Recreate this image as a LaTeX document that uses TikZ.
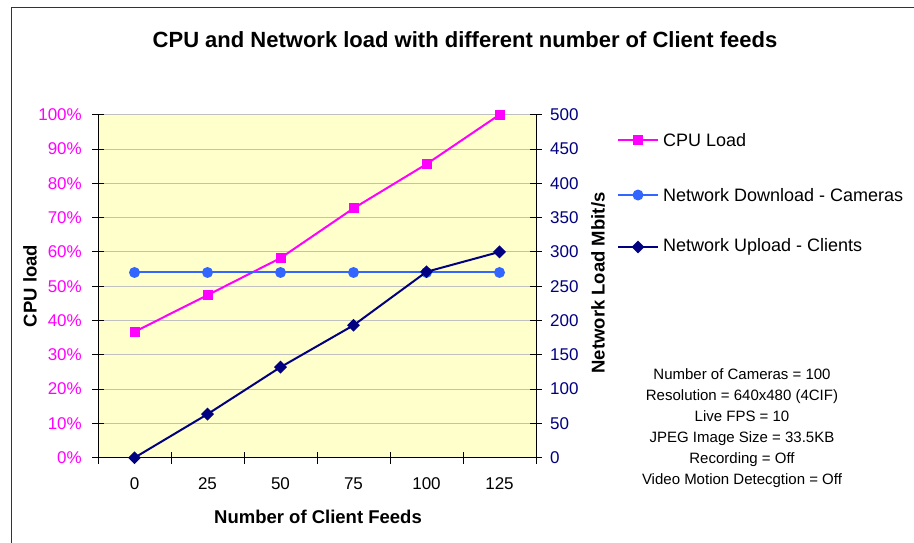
\documentclass[tikz,border=0pt]{standalone}
\usepackage{fontspec}
\setmainfont{Liberation Sans}
\usetikzlibrary{shapes.geometric}
\definecolor{cpuc}{RGB}{255,0,255}
\definecolor{dlc}{RGB}{51,102,255}
\definecolor{ulc}{RGB}{0,0,128}
\definecolor{plotbg}{RGB}{255,255,204}
\definecolor{gridc}{RGB}{192,192,192}
\tikzset{
  sqmark/.style={rectangle, fill=cpuc, inner sep=0pt, minimum size=10pt},
  cimark/.style={circle, fill=dlc, inner sep=0pt, minimum size=11pt},
  dimark/.style={diamond, fill=ulc, inner sep=0pt, minimum width=13pt, minimum height=13pt},
  cpuline/.style={draw=cpuc, line width=2pt},
  dlline/.style={draw=dlc, line width=2pt},
  ulline/.style={draw=ulc, line width=2pt},
  ticklab/.style={font=\fontsize{17}{19}\selectfont, inner sep=0pt},
  axtitle/.style={font=\fontsize{18.5}{20}\selectfont\bfseries, inner sep=0pt},
  legtext/.style={font=\fontsize{18}{20}\selectfont, anchor=west, inner sep=0pt},
}
\begin{document}
\begin{tikzpicture}[x=1pt,y=-1pt]
\useasboundingbox (0,0) rectangle (914,542);
\fill[white] (0,0) rectangle (914,542);
% outer frame
\draw[black!80, line width=1pt] (11,545) -- (11,7) -- (916,7);
% title
\node[font=\fontsize{22}{24}\selectfont\bfseries, inner sep=0pt] (title) at (465,40) {CPU and Network load with different number of Client feeds};
% plot area
\fill[plotbg] (98,114.7) rectangle (536,457.7);
\foreach \k in {1,...,9} {
  \draw[gridc, line width=1pt] (98,{457.7-34.3*\k}) -- (536,{457.7-34.3*\k});
}
\draw[gridc, line width=1pt] (98,114.7) -- (536,114.7);
% axes
\draw[black, line width=1pt] (98,114.7) -- (98,457.7) -- (536,457.7) -- (536,114.7);
\foreach \k in {0,...,10} {
  \draw[black, line width=1pt] (92,{457.7-34.3*\k}) -- (104,{457.7-34.3*\k});
  \draw[black, line width=1pt] (530,{457.7-34.3*\k}) -- (542,{457.7-34.3*\k});
}
\foreach \k in {0,...,6} {
  \draw[black, line width=1pt] ({98+73*\k},452) -- ({98+73*\k},463.5);
}
% left labels
\foreach \k/\lab in {0/0\%,1/10\%,2/20\%,3/30\%,4/40\%,5/50\%,6/60\%,7/70\%,8/80\%,9/90\%,10/100\%} {
  \node[ticklab, text=cpuc, anchor=east] (ly\k) at (82,{457.7-34.3*\k}) {\lab};
}
% right labels
\foreach \k/\lab in {0/0,1/50,2/100,3/150,4/200,5/250,6/300,7/350,8/400,9/450,10/500} {
  \node[ticklab, text=ulc, anchor=west] (ry\k) at (550,{457.7-34.3*\k}) {\lab};
}
% x labels
\foreach \k/\lab in {0/0,1/25,2/50,3/75,4/100,5/125} {
  \node[ticklab, anchor=center] (xl\k) at ({134.5+73*\k},484) {\lab};
}
% axis titles
\node[axtitle] (xt) at (318,517) {Number of Client Feeds};
\node[axtitle, rotate=90] (ylt) at (30,286) {CPU load};
\node[axtitle, rotate=90] (yrt) at (598,283) {Network Load Mbit/s};
% data coordinates
\foreach \k/\p in {0/36.7,1/47.4,2/58.2,3/72.7,4/85.6,5/100} {
  \coordinate (c\k) at ({134.5+73*\k},{457.7-3.43*\p});
}
\foreach \k in {0,...,5} {
  \coordinate (d\k) at ({134.5+73*\k},{457.7-0.686*270});
}
\foreach \k/\n in {0/0,1/63.5,2/132,3/193,4/271,5/300} {
  \coordinate (u\k) at ({134.5+73*\k},{457.7-0.686*\n});
}
% lines
\draw[cpuline] (c0) -- (c1) -- (c2) -- (c3) -- (c4) -- (c5);
\foreach \k in {0,...,5} { \node[sqmark] (cm\k) at (c\k) {}; }
\draw[dlline] (d0) -- (d1) -- (d2) -- (d3) -- (d4) -- (d5);
\foreach \k in {0,...,5} { \node[cimark] (dm\k) at (d\k) {}; }
\draw[ulline] (u0) -- (u1) -- (u2) -- (u3) -- (u4) -- (u5);
\foreach \k in {0,...,5} { \node[dimark] (um\k) at (u\k) {}; }
% legend
\coordinate (la1) at (618,140); \coordinate (lb1) at (658,140);
\coordinate (la2) at (618,195); \coordinate (lb2) at (658,195);
\coordinate (la3) at (618,247); \coordinate (lb3) at (658,247);
\draw[cpuline] (la1) -- (lb1);
\node[sqmark] (lm1) at (638,140) {};
\node[legtext] (lt1) at (663,140) {CPU Load};
\draw[dlline] (la2) -- (lb2);
\node[cimark] (lm2) at (638,195) {};
\node[legtext] (lt2) at (663,195) {Network Download - Cameras};
\draw[ulline] (la3) -- (lb3);
\node[dimark] (lm3) at (638,247) {};
\node[legtext] (lt3) at (663,247) {Network Upload - Clients};
% info text
\node[font=\fontsize{15}{21}\selectfont, align=center, inner sep=0pt, anchor=north] (info) at (742,368) {Number of Cameras = 100\\Resolution = 640x480 (4CIF)\\Live FPS = 10\\JPEG Image Size = 33.5KB\\Recording = Off\\Video Motion Detecgtion = Off};
\end{tikzpicture}
\end{document}
